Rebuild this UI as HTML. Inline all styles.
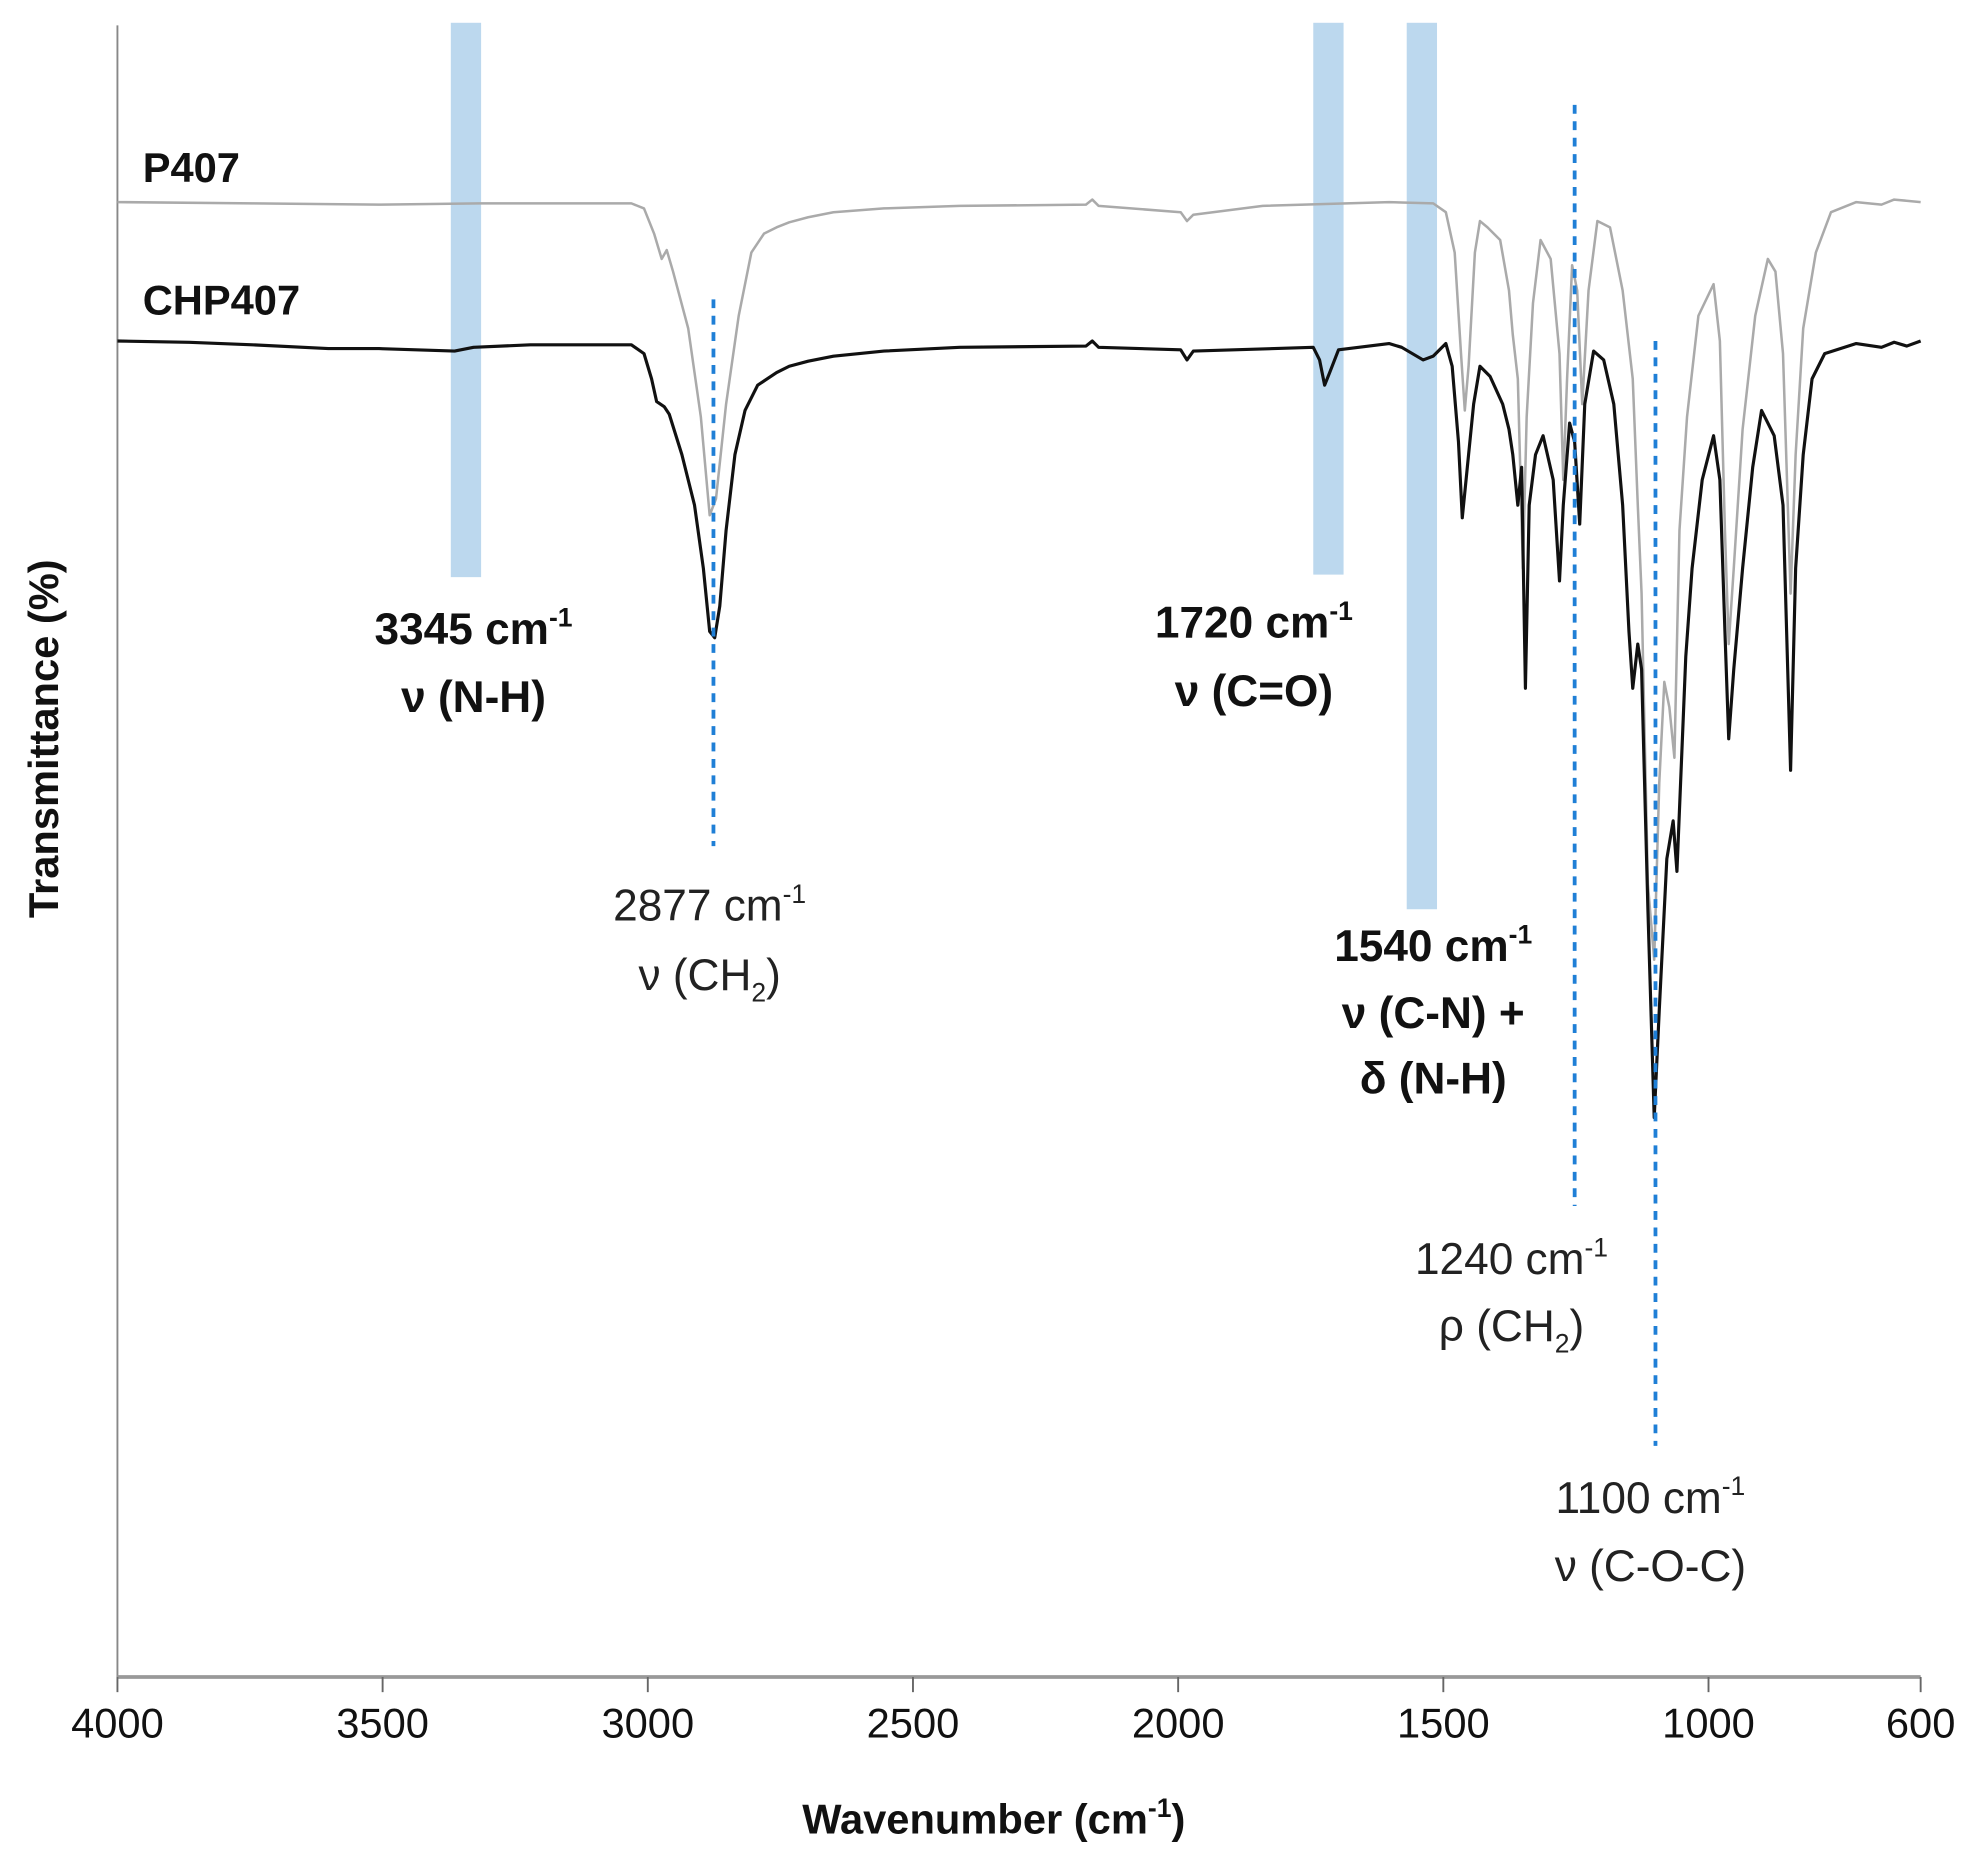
<!DOCTYPE html>
<html><head><meta charset="utf-8"><style>html,body{margin:0;padding:0;background:#fff}svg{display:block}</style></head>
<body>
<svg width="1980" height="1857" viewBox="0 0 1568 1470.5" xmlns="http://www.w3.org/2000/svg" font-family="'Liberation Sans', sans-serif">
<rect width="1568" height="1471" fill="#fff"/>
<!-- bands -->
<rect x="357" y="18" width="24" height="439" fill="#bcd8ee"/>
<rect x="1040" y="18" width="24" height="437" fill="#bcd8ee"/>
<rect x="1114" y="18" width="24" height="702" fill="#bcd8ee"/>
<!-- axes -->
<line x1="93" y1="20" x2="93" y2="1328" stroke="#888" stroke-width="1.5"/>
<line x1="93" y1="1328" x2="1521" y2="1328" stroke="#999" stroke-width="3"/>
<g stroke="#666" stroke-width="1.5">
<line x1="93" y1="1328" x2="93" y2="1340"/><line x1="303" y1="1328" x2="303" y2="1340"/><line x1="513" y1="1328" x2="513" y2="1340"/><line x1="723" y1="1328" x2="723" y2="1340"/><line x1="933" y1="1328" x2="933" y2="1340"/><line x1="1143" y1="1328" x2="1143" y2="1340"/><line x1="1353" y1="1328" x2="1353" y2="1340"/><line x1="1521" y1="1328" x2="1521" y2="1340"/>
</g>
<g font-size="33" text-anchor="middle" fill="#111">
<text x="93" y="1376">4000</text><text x="303" y="1376">3500</text><text x="513" y="1376">3000</text><text x="723" y="1376">2500</text><text x="933" y="1376">2000</text><text x="1143" y="1376">1500</text><text x="1353" y="1376">1000</text><text x="1521" y="1376">600</text>
</g>
<text x="787" y="1452" font-size="33" font-weight="bold" text-anchor="middle" fill="#111">Wavenumber (cm<tspan font-size="21" dy="-13">-1</tspan><tspan dy="13">)</tspan></text>
<text transform="translate(46,585) rotate(-90)" font-size="33" font-weight="bold" text-anchor="middle" fill="#111">Transmittance (%)</text>
<!-- P407 gray -->
<polyline fill="none" stroke="#aaa" stroke-width="2" stroke-linejoin="round" points="93,160 200,161 300,162 380,161 450,161 500,161 510,165 518,185 524,205 528,198 533,215 545,260 555,330 562,408 567,395 575,320 585,250 595,200 605,185 615,180 625,176 640,172 660,168 700,165 760,163 860,162 865,158 870,163 935,168 940,175 945,170 1000,163 1100,160 1135,161 1145,168 1152,200 1157,280 1160,325 1163,290 1168,200 1172,175 1178,180 1188,190 1195,230 1198,265 1202,300 1206,450 1209,330 1214,240 1220,190 1228,205 1235,280 1238,380 1241,300 1245,210 1249,230 1253,320 1258,230 1265,175 1275,180 1285,230 1293,300 1297,400 1300,470 1305,700 1310,760 1314,620 1318,540 1322,560 1326,600 1330,420 1336,330 1345,250 1357,225 1362,270 1366,420 1369,510 1373,450 1380,340 1390,250 1400,205 1406,215 1412,280 1418,470 1422,360 1428,260 1438,200 1450,168 1470,160 1490,162 1500,158 1521,160"/>
<!-- CHP407 black -->
<polyline fill="none" stroke="#111" stroke-width="2.5" stroke-linejoin="round" points="93,270 150,271 200,273 260,276 300,276 360,278 375,275 420,273 500,273 510,280 516,300 520,318 526,322 530,328 540,360 550,400 557,450 562,500 566,505 570,480 575,420 582,360 590,325 600,305 615,295 625,290 640,286 660,282 700,278 760,275 860,274 865,270 870,275 935,277 940,285 945,278 1040,275 1045,285 1049,305 1053,295 1060,277 1100,272 1110,275 1127,285 1135,282 1145,272 1150,290 1155,350 1158,410 1162,370 1167,320 1172,290 1180,298 1190,320 1195,340 1198,360 1202,400 1205,370 1208,545 1211,400 1216,360 1222,345 1230,380 1235,460 1238,400 1243,335 1247,350 1251,415 1255,320 1262,278 1270,285 1278,320 1285,400 1290,500 1293,545 1297,510 1300,530 1305,720 1310,885 1314,800 1320,680 1325,650 1328,690 1335,520 1340,450 1348,380 1357,345 1362,380 1366,500 1369,585 1373,530 1380,450 1388,370 1395,325 1405,345 1412,400 1418,610 1422,450 1428,360 1435,300 1445,280 1470,272 1490,275 1500,271 1510,274 1521,270"/>
<!-- dashed -->
<g stroke="#1f7fd6" stroke-width="3" stroke-dasharray="7,6">
<line x1="565" y1="237" x2="565" y2="670"/>
<line x1="1247" y1="83" x2="1247" y2="955"/>
<line x1="1311" y1="270" x2="1311" y2="1145"/>
</g>
<!-- labels -->
<g font-weight="bold" font-size="33" fill="#111">
<text x="113" y="144">P407</text>
<text x="113" y="249">CHP407</text>
</g>
<g font-weight="bold" font-size="35" fill="#111" text-anchor="middle">
<text x="375" y="510">3345 cm<tspan font-size="21" dy="-14">-1</tspan></text>
<text x="375" y="564">ν (N-H)</text>
<text x="993" y="505">1720 cm<tspan font-size="21" dy="-14">-1</tspan></text>
<text x="993" y="559">ν (C=O)</text>
<text x="1135" y="761">1540 cm<tspan font-size="21" dy="-14">-1</tspan></text>
<text x="1135" y="814">ν (C-N) +</text>
<text x="1135" y="866">δ (N-H)</text>
</g>
<g font-size="35" fill="#222" text-anchor="middle">
<text x="562" y="729">2877 cm<tspan font-size="21" dy="-14">-1</tspan></text>
<text x="562" y="784">ν (CH<tspan font-size="21" dy="9">2</tspan><tspan dy="-9">)</tspan></text>
<text x="1197" y="1009">1240 cm<tspan font-size="21" dy="-14">-1</tspan></text>
<text x="1197" y="1062">ρ (CH<tspan font-size="21" dy="9">2</tspan><tspan dy="-9">)</tspan></text>
<text x="1307" y="1198">1100 cm<tspan font-size="21" dy="-14">-1</tspan></text>
<text x="1307" y="1252">ν (C-O-C)</text>
</g>
</svg>
</body></html>
